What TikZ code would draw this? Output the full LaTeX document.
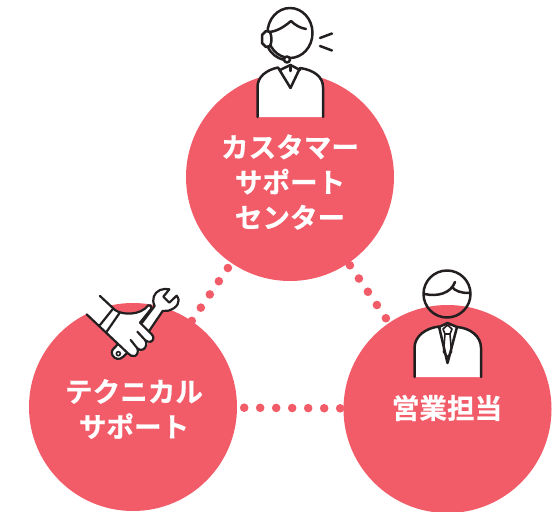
\documentclass[tikz,border=0pt]{standalone}
\usepackage{fontspec}
\newfontfamily\jpbold[FakeBold=0.5]{Noto Sans CJK JP Bold}
\definecolor{coral}{HTML}{F25C69}
\definecolor{ink}{HTML}{231F20}
\tikzset{
  disc/.style={circle,fill=coral,draw=none,minimum size=208pt,inner sep=0pt},
  lbl/.style={font=\jpbold\fontsize{27.6}{35.2}\selectfont,text=white,align=center,inner sep=0pt},
  dots/.style={line width=8.6pt,line cap=round,draw=coral,dash pattern=on 0pt off 16pt},
  icon/.style={draw=ink,line width=2.5pt,line join=round,line cap=round},
  iconw/.style={icon,fill=white},
  handline/.style={draw=ink,line width=2.2pt,line join=round,line cap=round}
}
\begin{document}
\begin{tikzpicture}[x=1pt,y=-1pt]
\useasboundingbox (0,0) rectangle (553,511);
\begin{scope}
\clip (0,0) rectangle (553,511);
\node[disc] (top) at (290,177) {};
\node[disc] (left) at (133,407) {};
\node[disc] (right) at (447.5,409) {};
\end{scope}
% dotted connectors
\draw[dots,shorten <=6pt,shorten >=0pt] (top) -- (left);
\draw[dots,shorten <=2.5pt,shorten >=5pt] (top) -- (right);
\draw[dots,shorten <=7pt,shorten >=2.5pt] (left) -- (right);
% labels
\node[lbl] (ltop) at (290,182) {カスタマー\\サポート\\センター};
\node[lbl] (lleft) at (134,409) {テクニカル\\サポート};
\node[lbl] (lright) at (447,408) {営業担当};
% operator
\path[fill=white] (257,117) -- (257,87) .. controls (257,75) and (266,70) .. (278,67) -- (290,66) -- (300,67) .. controls (314,70) and (323,76) .. (323,87) -- (323,117) -- cycle;
\draw[icon] (257.5,117) -- (257.5,87) .. controls (257.5,77) and (266,70) .. (278,67.5) -- (290.5,88) -- (300,68) .. controls (314,70) and (323,77) .. (323,87) -- (323,117);
\draw[icon] (280,70) -- (290.5,65) -- (300,70);
\draw[icon] (290.5,65) -- (290.5,71);
\draw[icon] (290,33) ellipse [x radius=22.5pt,y radius=25pt];
\draw[icon] (268,32) .. controls (276,32) and (284,27) .. (291,21) .. controls (295,25) and (300,28) .. (306,29);
\draw[iconw] (266,31) -- (270,32) .. controls (272,37) and (272,42) .. (270,46) -- (266,47) -- (262,43) -- (262,35) -- cycle;
\draw[icon] (268,47) .. controls (271,54) and (277,58) .. (284,60);
\draw[iconw] (287,59.5) circle (3pt);
\draw[icon] (320,38) -- (332,33.5);
\draw[icon] (320,46) -- (332,50.5);
% businessman
\path[fill=white] (414,377) -- (414,348) .. controls (414,336) and (426,328) .. (439,326) -- (457,326) .. controls (470,328) and (481,336) .. (481,348) -- (481,377) -- cycle;
\draw[icon] (414.5,377) -- (414.5,348) .. controls (414.5,336) and (426,328) .. (439,326.5) -- (447.5,363) -- (457,327) .. controls (470,328) and (481,336) .. (481,348) -- (481,377);
\draw[icon] (439,327) -- (447.5,323) -- (457,327);
\draw[icon,line width=1.6pt] (447.5,325) -- (452,329) -- (450,334) -- (445,334) -- (443,329) -- cycle;
\draw[icon,line width=1.6pt] (445,334) -- (443.5,352) -- (447.5,357) -- (451.5,352) -- (450,334);
\draw[icon] (447,294) circle (23.5pt);
\draw[icon] (424.5,294) .. controls (438,297) and (451,293) .. (455,282);
\draw[icon] (452,287) .. controls (455,291) and (461,293) .. (469,293);
% wrench hand
\begin{scope}[shift={(80,280)},x=.3333pt,y=-.3333pt]
\draw[handline,fill=white] (187,127) -- (224,78) .. controls (214,58) and (222,38) .. (240,30) .. controls (250,26) and (260,26) .. (268,28) -- (250,50) -- (268,68) -- (290,47) .. controls (305,65) and (290,85) .. (265,92) .. controls (258,94) and (254,94) .. (248,93)
  -- (208,152) -- (130,230) .. controls (120,241) and (103,238) .. (97,225) .. controls (93,215) and (97,208) .. (107,200) -- (130,170) -- cycle;
\draw[handline,fill=white,line width=1.6pt] (115,221) circle (6);
% hand outline with finger tips
\path[fill=white] (20,103) -- (60,48) -- (105,90) .. controls (125,105) and (180,108) .. (205,76) -- (214,86) -- (180,128) -- (216,164) -- (220,178) -- (205,186) -- (198,205) -- (178,214) -- (170,226) -- (150,224) -- cycle;
\draw[handline] (60,48) -- (105,90) .. controls (125,105) and (180,108) .. (205,76) .. controls (210,72) and (216,78) .. (214,86) -- (180,128) -- (216,164) .. controls (224,172) and (220,182) .. (212,185) .. controls (206,187) and (200,184) .. (196,181) .. controls (202,190) and (198,204) .. (190,208) .. controls (184,212) and (178,210) .. (172,205) .. controls (176,214) and (172,226) .. (164,228) .. controls (156,230) and (150,226) .. (144,220) -- (20,103);
\draw[handline] (172,155) -- (196,181);
\draw[handline] (152,180) -- (172,205);
\draw[handline] (60,135) -- (100,85);
\draw[handline] (80,155) -- (118,100);
\end{scope}
\end{tikzpicture}
\end{document}
